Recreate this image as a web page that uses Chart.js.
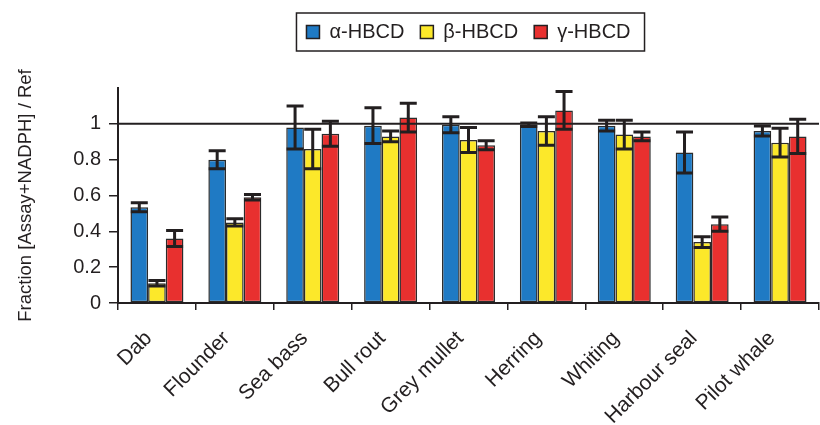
<!DOCTYPE html>
<html>
<head>
<meta charset="utf-8">
<script src="https://cdn.jsdelivr.net/npm/chart.js@4/dist/chart.umd.min.js"></script>
<style>
html,body{margin:0;padding:0;background:#fff;}
#wrap{width:820px;height:425px;}
</style>
</head>
<body>
<div id="wrap"><canvas id="c" width="820" height="425"></canvas></div>
<script>
const categories = ["Dab","Flounder","Sea bass","Bull rout","Grey mullet","Herring","Whiting","Harbour seal","Pilot whale"];
const seriesNames = ["\u03b1-HBCD","\u03b2-HBCD","\u03b3-HBCD"];
const alphaVals = [0.535,0.80,0.98,0.99,0.995,0.995,0.99,0.84,0.96];
const alphaErr  = [0.025,0.05,0.12,0.10,0.045,0.01,0.03,0.115,0.028];
const betaVals  = [0.11,0.45,0.86,0.93,0.91,0.96,0.94,0.34,0.895];
const betaErr   = [0.015,0.02,0.11,0.03,0.07,0.08,0.08,0.03,0.08];
const gammaVals = [0.36,0.59,0.945,1.035,0.88,1.075,0.93,0.44,0.93];
const gammaErr  = [0.045,0.015,0.07,0.08,0.025,0.105,0.025,0.04,0.095];
const yTicks = [0,0.2,0.4,0.6,0.8,1];
const refLineValue = 1;

const colors = ["#1f7ac4","#fce82a","#e8302f"];
const errs = [alphaErr, betaErr, gammaErr];
const FONT = 'Liberation Sans, Arial, sans-serif';

const errorBarPlugin = {
  id: 'errorBars',
  afterLayout(chart) {
    const lg = chart.legend;
    if (!lg) return;
    const ca = chart.chartArea;
    const dx = (ca.left + ca.right) / 2 - (lg.left + lg.right) / 2;
    const dy = -36;
    lg.left += dx; lg.right += dx;
    lg.top += dy; lg.bottom += dy;
    if (lg.legendHitBoxes) lg.legendHitBoxes.forEach(h => { h.left += dx; });
  },
  afterDatasetsDraw(chart) {
    const ctx = chart.ctx;
    const ys = chart.scales.y;
    ctx.save();
    ctx.strokeStyle = '#231f20';
    ctx.lineWidth = 3;
    chart.data.datasets.forEach((ds, i) => {
      const meta = chart.getDatasetMeta(i);
      meta.data.forEach((el, j) => {
        const v = ds.data[j], e = errs[i][j];
        const x = el.x;
        const yt = ys.getPixelForValue(v + e);
        const yb = ys.getPixelForValue(v - e);
        const hw = 8.5;
        ctx.beginPath();
        ctx.moveTo(x, yt); ctx.lineTo(x, yb);
        ctx.moveTo(x - hw, yt); ctx.lineTo(x + hw, yt);
        ctx.moveTo(x - hw, yb); ctx.lineTo(x + hw, yb);
        ctx.stroke();
      });
    });
    const y1 = ys.getPixelForValue(refLineValue);
    ctx.strokeStyle = '#231f20';
    ctx.lineWidth = 2;
    ctx.beginPath();
    ctx.moveTo(chart.chartArea.left, y1);
    ctx.lineTo(chart.chartArea.right, y1);
    ctx.stroke();
    ctx.restore();
  },
  afterDraw(chart) {
    const lg = chart.legend;
    if (!lg || !lg.legendHitBoxes || !lg.legendHitBoxes.length) return;
    const hb = lg.legendHitBoxes;
    const l = hb[0].left - 10;
    const last = hb[hb.length - 1];
    const r = last.left + last.width + 14;
    const cy = hb[0].top + hb[0].height / 2;
    const t = cy - 19;
    const b = cy + 19;
    const ctx = chart.ctx;
    ctx.save();
    ctx.strokeStyle = '#231f20';
    ctx.lineWidth = 1.5;
    ctx.strokeRect(l, t, r - l, b - t);
    ctx.restore();
  }
};

new Chart(document.getElementById('c'), {
  type: 'bar',
  data: {
    labels: categories,
    datasets: [
      {label: seriesNames[0], data: alphaVals, backgroundColor: colors[0]},
      {label: seriesNames[1], data: betaVals, backgroundColor: colors[1]},
      {label: seriesNames[2], data: gammaVals, backgroundColor: colors[2]}
    ].map(d => Object.assign(d, {borderColor: '#2b2b2b', borderWidth: 1.5, borderSkipped: false, categoryPercentage: 0.68, barPercentage: 1.0}))
  },
  options: {
    responsive: false,
    animation: false,
    layout: {padding: {top: 42, right: 1, left: 0, bottom: 0}},
    plugins: {
      legend: {
        display: true,
        position: 'top',
        labels: {
          font: {family: FONT, size: 20},
          color: '#231f20',
          boxWidth: 13,
          boxHeight: 13,
          padding: 16,
          generateLabels(chart) {
            return chart.data.datasets.map((d, i) => ({
              text: d.label, fillStyle: d.backgroundColor, strokeStyle: '#231f20',
              lineWidth: 1.5, hidden: false, datasetIndex: i, fontColor: '#231f20'
            }));
          }
        }
      },
      tooltip: {enabled: false}
    },
    scales: {
      x: {
        grid: {display: true, drawOnChartArea: false, offset: true, color: '#231f20', tickLength: 7, lineWidth: 1.5},
        border: {display: true, color: '#231f20', width: 2},
        ticks: {
          font: {family: FONT, size: 21},
          color: '#231f20', maxRotation: 45, minRotation: 45, padding: 8, autoSkip: false,
          callback: function (v) { return this.getLabelForValue(v) + '  '; }
        },
        afterFit(s) { s.height = 122; }
      },
      y: {
        min: 0, max: 1.2,
        afterBuildTicks(s) { s.ticks = yTicks.concat([1.2]).map(v => ({value: v})); },
        grid: {display: true, drawOnChartArea: false, tickLength: 9, lineWidth: 1.5,
          color: (c) => (c.tick && c.tick.value > 1.1) ? 'rgba(0,0,0,0)' : '#231f20'},
        border: {display: true, color: '#231f20', width: 2},
        ticks: {
          font: {family: FONT, size: 20},
          color: '#231f20', padding: 8,
          callback: (v) => (v > 1.1 ? '' : String(Math.round(v * 10) / 10))
        },
        title: {display: true, text: 'Fraction [Assay+NADPH] / Ref',
          font: {family: FONT, size: 18.5}, color: '#231f20', padding: {top: 15, bottom: 0}},
        afterFit(s) { s.width = 118; }
      }
    }
  },
  plugins: [errorBarPlugin]
});
</script>
</body>
</html>
